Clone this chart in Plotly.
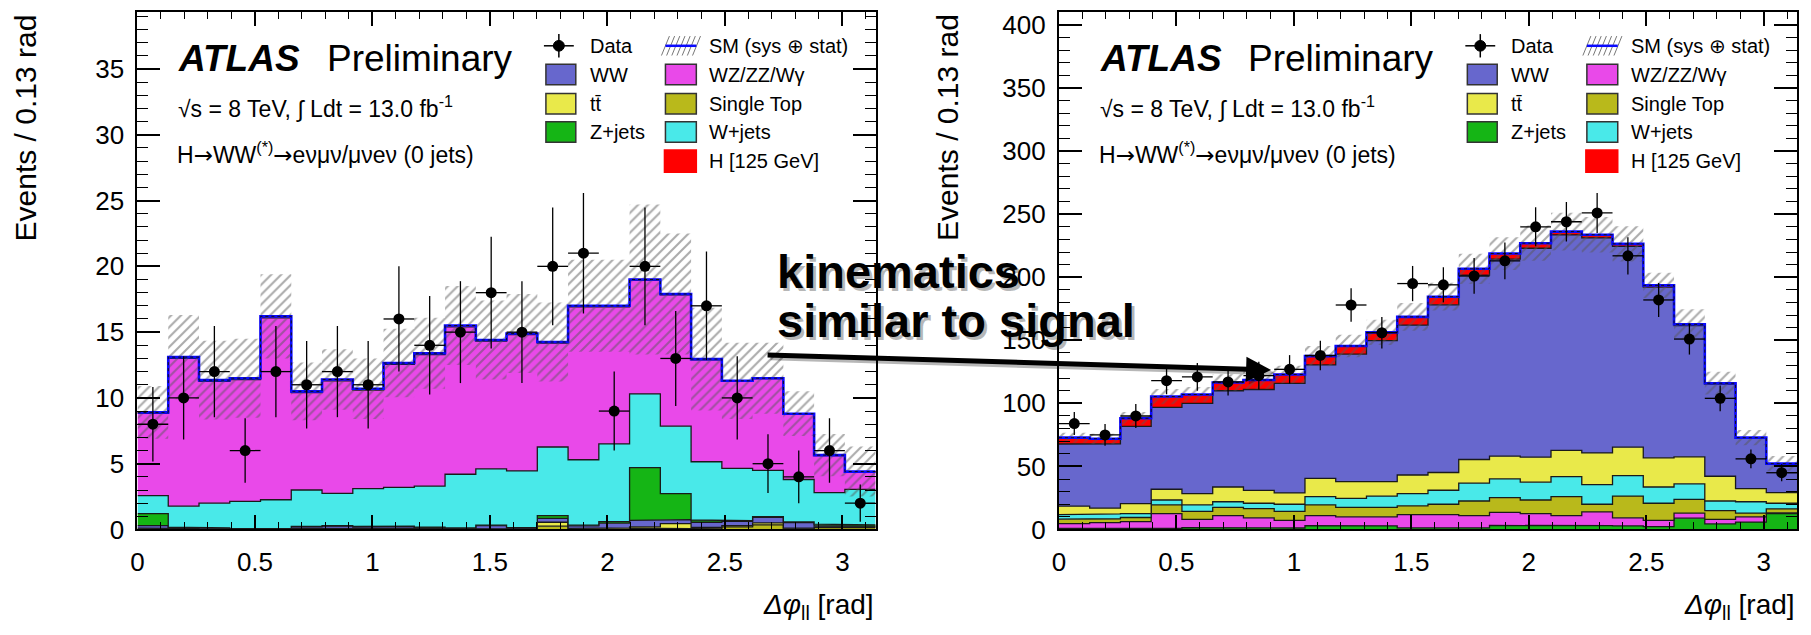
import numpy as np
import plotly.graph_objects as go

W_PX, H_PX = 1811, 635
FONT = "Liberation Sans, Arial, Helvetica, sans-serif"

# Delta-phi binning: 24 bins of pi/24 (0.13 rad)
edges = np.linspace(0.0, np.pi, 25)
centers = 0.5 * (edges[1:] + edges[:-1])
half_width = 0.5 * (edges[1] - edges[0])

# ---------------- left panel (events per bin) ----------------
data_l = [8, 10, 12, 6, 12, 11, 12, 11, 16, 14, 15, 18, 15, 20, 21, 9, 20, 13, 17, 10, 5, 4, 6, 2]
st_l = [0.05, 0.03, 0.02, 0.01, 0.01, 0.04, 0.03, 0.03, 0.03, 0.02, 0.02, 0.03, 0.02, 0.25, 0.03, 0.05, 0.10, 0.05, 0.05, 0.20, 0.35, 0.05, 0.15, 0.15]
tt_l = [0.05, 0.03, 0.02, 0.01, 0.01, 0.04, 0.03, 0.03, 0.03, 0.02, 0.02, 0.03, 0.02, 0.30, 0.05, 0.08, 0.10, 0.40, 0.10, 0.10, 0.15, 0.05, 0.05, 0.05]
ww_l = [0.20, 0.08, 0.06, 0.03, 0.04, 0.12, 0.20, 0.12, 0.15, 0.10, 0.06, 0.24, 0.08, 0.30, 0.20, 0.35, 0.50, 0.30, 0.40, 0.32, 0.42, 0.42, 0.10, 0.05]
z_l = [0.90, 0.03, 0.02, 0.01, 0.01, 0.04, 0.04, 0.05, 0.04, 0.04, 0.02, 0.03, 0.02, 0.20, 0.05, 0.12, 4.00, 1.97, 0.17, 0.05, 0.05, 0.05, 0.10, 0.10]
w_l = [1.38, 1.60, 1.88, 2.08, 2.19, 2.76, 2.45, 2.87, 2.95, 3.12, 4.08, 4.27, 4.31, 5.22, 4.97, 5.90, 5.60, 5.13, 4.43, 3.98, 3.53, 3.23, 2.40, 2.70]
wz_l = [6.24, 11.23, 9.26, 9.26, 13.82, 7.40, 8.54, 7.50, 9.36, 10.00, 11.20, 9.71, 10.37, 7.90, 11.63, 10.43, 8.64, 9.99, 7.75, 6.60, 6.96, 4.96, 2.82, 1.32]
h_l = [0.08, 0.10, 0.09, 0.10, 0.12, 0.10, 0.11, 0.10, 0.09, 0.10, 0.10, 0.09, 0.08, 0.08, 0.07, 0.07, 0.06, 0.06, 0.05, 0.05, 0.04, 0.04, 0.03, 0.03]
unc_l = [2.0, 3.2, 3.0, 3.0, 3.2, 2.2, 2.3, 2.3, 2.6, 2.7, 3.0, 3.0, 3.0, 3.0, 3.5, 3.5, 5.7, 4.6, 3.9, 2.9, 2.7, 1.7, 1.6, 1.9]

# ---------------- right panel (events per bin) ----------------
data_r = [84, 75, 90, 118, 121, 117, 122, 127, 138, 178, 156, 195, 194, 201, 213, 240, 244, 251, 217, 182, 151, 104, 56, 45]
z_r = [0.8, 0.8, 0.8, 1.0, 1.5, 1.2, 1.5, 1.2, 3.0, 3.2, 2.8, 1.2, 1.0, 1.2, 3.2, 3.5, 3.3, 3.0, 2.8, 2.2, 9.0, 4.5, 5.9, 12.5]
wz_r = [3.8, 4.7, 5.4, 11.6, 6.5, 9.8, 7.75, 6.0, 8.0, 6.8, 7.2, 10.6, 10.8, 9.8, 10.4, 9.1, 7.7, 10.9, 6.45, 5.0, 3.9, 3.5, 4.1, 0.7]
st_r = [3.6, 3.0, 3.3, 6.9, 6.4, 6.5, 7.25, 7.2, 8.5, 7.5, 7.5, 7.0, 8.2, 11.6, 11.6, 10.8, 15.0, 6.1, 17.25, 13.6, 11.0, 6.9, 3.0, 3.1]
w_r = [3.6, 3.8, 3.1, 3.9, 5.1, 4.5, 4.3, 5.6, 6.5, 7.2, 9.0, 9.7, 11.1, 14.2, 14.9, 14.1, 15.9, 15.5, 16.2, 12.9, 12.3, 7.7, 9.0, 4.5]
tt_r = [6.7, 4.7, 7.9, 8.5, 9.0, 11.7, 10.2, 9.0, 14.6, 13.3, 11.5, 14.7, 14.1, 18.7, 18.0, 19.8, 20.8, 25.2, 22.6, 23.1, 21.4, 19.6, 10.4, 8.5]
ww_r = [49.3, 51.0, 61.2, 65.0, 71.5, 76.3, 80.0, 86.9, 89.9, 101.0, 111.8, 118.9, 132.9, 146.2, 156.2, 165.7, 170.9, 170.5, 159.2, 135.3, 104.1, 73.1, 39.9, 22.6]
h_r = [5.0, 4.0, 6.5, 8.5, 7.0, 6.5, 7.5, 7.0, 7.0, 6.5, 6.5, 6.5, 6.5, 5.0, 4.5, 4.0, 2.6, 2.5, 2.0, 1.5, 1.0, 0.7, 0.5, 0.3]
unc_r = [4, 4, 5, 6, 6, 6.5, 7, 7, 8, 9, 10, 11, 11, 12, 13, 14, 15, 14, 14, 10, 12, 9, 6, 6]

COLORS = {
    "WW": "#6767cd", "tt": "#e9e94a", "ST": "#b9b91b", "Z": "#15b515",
    "W": "#49e9e9", "WZ": "#e949e9", "H": "#ff0000",
}

x_ticks = [0, 0.5, 1, 1.5, 2, 2.5, 3]
x_ticktext = ["0", "0.5", "1", "1.5", "2", "2.5", "3"]


def step(vals):
    """Histogram outline through bin edges."""
    v = np.asarray(vals, dtype=float)
    return np.repeat(edges, 2)[1:-1], np.repeat(v, 2)


fig = go.Figure()


def add_panel(xa, ya, stack, data, unc):
    cum = np.zeros(len(edges) - 1)
    first = True
    for name, vals in stack:
        cum = cum + np.asarray(vals, dtype=float)
        sx, sy = step(cum)
        fig.add_trace(go.Scatter(
            x=sx, y=sy, xaxis=xa, yaxis=ya, mode="lines",
            line=dict(color="#ff0000" if name == "H" else "#1a1a1a", width=1.3),
            fill="tozeroy" if first else "tonexty",
            fillcolor=COLORS[name], hoverinfo="skip", name=name,
        ))
        first = False
    total = cum
    # systematic + statistical band
    up = total + np.asarray(unc)
    lo = np.clip(total - np.asarray(unc), 0, None)
    ux, uy = step(up)
    lx, ly = step(lo)
    fig.add_trace(go.Scatter(
        x=np.concatenate([ux, lx[::-1]]), y=np.concatenate([uy, ly[::-1]]),
        xaxis=xa, yaxis=ya, mode="lines", line=dict(width=0),
        fill="toself", fillcolor="rgba(0,0,0,0)",
        fillpattern=dict(shape="/", fgcolor="#585858", bgcolor="rgba(0,0,0,0)",
                         size=7, solidity=0.3),
        hoverinfo="skip", name="SM unc",
    ))
    tx, ty = step(total)
    fig.add_trace(go.Scatter(x=tx, y=ty, xaxis=xa, yaxis=ya, mode="lines",
                             line=dict(color="#0a0aff", width=2.6), hoverinfo="skip"))
    fig.add_trace(go.Scatter(x=tx, y=ty, xaxis=xa, yaxis=ya, mode="lines",
                             line=dict(color="#111111", width=1, dash="3px,3px"),
                             hoverinfo="skip"))
    d = np.asarray(data, dtype=float)
    fig.add_trace(go.Scatter(
        x=centers, y=d, xaxis=xa, yaxis=ya, mode="markers",
        marker=dict(color="black", size=11),
        error_y=dict(type="data", array=np.sqrt(d), color="black", thickness=1.3, width=0),
        error_x=dict(type="constant", value=half_width, color="black", thickness=1.3, width=0),
        name="Data",
    ))


add_panel("x", "y",
          [("ST", st_l), ("tt", tt_l), ("WW", ww_l), ("Z", z_l), ("W", w_l), ("WZ", wz_l), ("H", h_l)],
          data_l, unc_l)
add_panel("x2", "y2",
          [("Z", z_r), ("WZ", wz_r), ("ST", st_r), ("W", w_r), ("tt", tt_r), ("WW", ww_r), ("H", h_r)],
          data_r, unc_r)


def px(x):
    return x / W_PX


def py(y):
    return 1 - y / H_PX


y_dom = [py(542), py(10.7)]
common_x = dict(range=[0, np.pi], tickvals=x_ticks, ticktext=x_ticktext, ticks="inside",
                ticklen=14, tickwidth=1.5, tickcolor="black",
                minor=dict(ticks="inside", ticklen=7, dtick=0.1, tick0=0, tickcolor="black", tickwidth=1.3),
                showline=True, linecolor="black", linewidth=2, mirror="ticks",
                showgrid=False, zeroline=False, tickfont=dict(family=FONT, size=26, color="black"),
                ticklabelstandoff=8)
common_y = dict(ticks="inside", ticklen=23, tickwidth=1.5, tickcolor="black",
                showline=True, linecolor="black", linewidth=2, mirror="ticks",
                showgrid=False, zeroline=False, tickfont=dict(family=FONT, size=26, color="black"),
                ticklabelstandoff=6)

fig.update_layout(
    width=W_PX, height=H_PX, margin=dict(l=0, r=0, t=0, b=0),
    paper_bgcolor="white", plot_bgcolor="white", showlegend=False,
    xaxis=dict(domain=[px(131), px(872)], anchor="y", **common_x),
    yaxis=dict(domain=y_dom, anchor="x", range=[0, 39.3], dtick=5,
               minor=dict(ticks="inside", ticklen=11, dtick=1, tickcolor="black", tickwidth=1.3),
               **common_y),
    xaxis2=dict(domain=[px(1056), px(1797)], anchor="y2", **common_x),
    yaxis2=dict(domain=y_dom, anchor="x2", range=[0, 410], dtick=50,
                minor=dict(ticks="inside", ticklen=11, dtick=10, tickcolor="black", tickwidth=1.3),
                **common_y),
)

annotations = []
shapes = []


def text(x, y, s, size, anchor="left", color="black", angle=0, yanchor="middle"):
    annotations.append(dict(x=px(x), y=py(y), xref="paper", yref="paper", text=s,
                            showarrow=False, xanchor=anchor, yanchor=yanchor, textangle=angle,
                            font=dict(family=FONT, size=size, color=color)))


def rect(x0, y0, x1, y1, fill, line):
    shapes.append(dict(type="rect", xref="paper", yref="paper", x0=px(x0), x1=px(x1),
                       y0=py(y1), y1=py(y0), fillcolor=fill, line=dict(color=line, width=1.5)))


def seg(x0, y0, x1, y1, color, width):
    shapes.append(dict(type="line", xref="paper", yref="paper", x0=px(x0), x1=px(x1),
                       y0=py(y0), y1=py(y1), line=dict(color=color, width=width)))


ARROW = "<span style='font-family:DejaVu Sans'>\u2192</span>"

for off in (0, 925):
    # panel header
    text(170 + off, 58, "<b><i>ATLAS</i></b>", 37)
    text(319 + off, 58, "Preliminary", 37)
    text(170 + off, 108, "\u221as = 8 TeV, \u222b Ldt = 13.0 fb<sup>-1</sup>", 23)
    text(169 + off, 155, "H" + ARROW + "WW<sup>(*)</sup>" + ARROW
         + "e\u03bd\u03bc\u03bd/\u03bc\u03bde\u03bd (0 jets)", 23)
    # axis titles
    text(19 + off, 129, "Events / 0.13 rad", 30, anchor="center", angle=-90)
    text(872 + off, 621, "<i>\u0394\u03c6</i><sub>ll</sub> [rad]", 28, anchor="right")

    # legend, left column
    seg(539 + off, 45, 569 + off, 45, "black", 1.5)
    seg(554 + off, 33, 554 + off, 57, "black", 1.5)
    shapes.append(dict(type="circle", xref="paper", yref="paper",
                       x0=px(548.5 + off), x1=px(559.5 + off), y0=py(50.5), y1=py(39.5),
                       fillcolor="black", line=dict(color="black", width=1)))
    text(583 + off, 45, "Data", 20)
    for label, key, yc in (("WW", "WW", 74.5), ("tt\u0304", "tt", 104.5), ("Z+jets", "Z", 133.5)):
        rect(541 + off, yc - 10.5, 571 + off, yc + 10.5, COLORS[key], "#333333")
        text(583 + off, yc, label, 20)

    # legend, right column
    for k in range(7):
        xs = 661 + off + k * 5.2
        seg(xs - 4, 55, xs + 4, 35, "#777777", 1)
    seg(661 + off, 45, 692 + off, 45, "#0a0aff", 2.5)
    text(703 + off, 45, "SM (sys \u2295 stat)", 20)
    for label, key, yc in (("WZ/ZZ/W\u03b3", "WZ", 74.5), ("Single Top", "ST", 104.5),
                           ("W+jets", "W", 133.5)):
        rect(661 + off, yc - 10.5, 692 + off, yc + 10.5, COLORS[key], "#333333")
        text(703 + off, yc, label, 20)
    rect(660 + off, 152, 692 + off, 175, COLORS["H"], COLORS["H"])
    text(703 + off, 163.5, "H [125 GeV]", 20)

# callout with drop shadow
for dx, col in ((3, "rgba(0,0,0,0.28)"), (0, "black")):
    annotations.append(dict(x=px(1269 + dx), y=py(378 + dx), xref="paper", yref="paper",
                            ax=-505, ay=-15, text="", showarrow=True, arrowhead=2,
                            arrowsize=1, arrowwidth=5, arrowcolor=col))
    text(771 + dx, 277 + dx, "<b>kinematics</b>", 47, color=col)
    text(771 + dx, 327 + dx, "<b>similar to signal</b>", 47, color=col)

fig.update_layout(annotations=annotations, shapes=shapes)
fig.write_html("out.html")
